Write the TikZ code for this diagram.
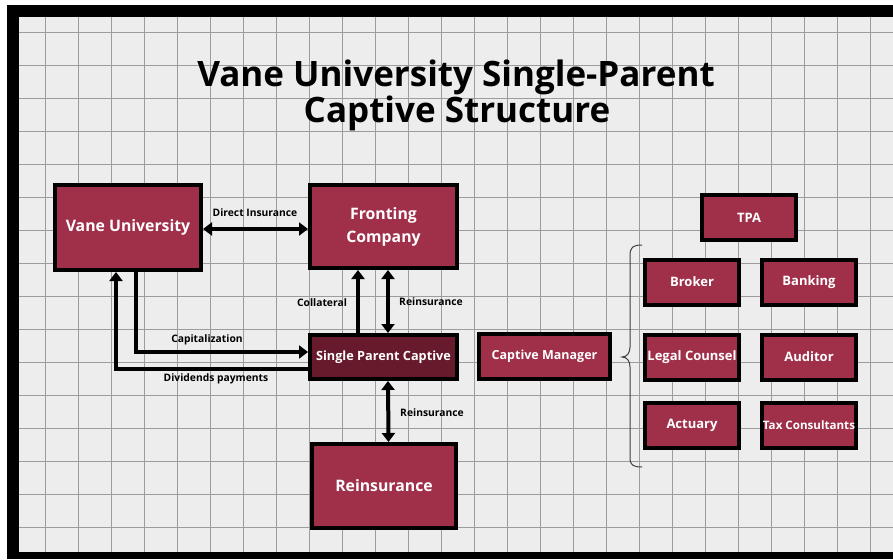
\documentclass[tikz,border=0pt]{standalone}
\usepackage{fontspec}
\setmainfont{Open Sans}
\usetikzlibrary{arrows.meta}
\definecolor{bg}{HTML}{EDEDED}
\definecolor{gridc}{HTML}{9C9C9C}
\definecolor{maroon}{HTML}{A0304A}
\definecolor{darkmaroon}{HTML}{661A2C}
\tikzset{
  box/.style={draw=black, line width=4pt, fill=maroon, text=white, font=\bfseries\fontsize{15.8}{23}\selectfont, align=center, inner sep=1pt},
  smallbox/.style={box, minimum width=94pt, minimum height=45pt, font=\bfseries\fontsize{13}{15}\selectfont},
  conn/.style={line width=4pt, draw=black},
  arr/.style={conn, -{Triangle[length=9pt,width=13pt]}},
  dbl/.style={conn, {Triangle[length=9pt,width=13pt]}-{Triangle[length=9pt,width=13pt]}},
  lbl/.style={font=\bfseries\fontsize{10.3}{12}\selectfont, text=black, inner sep=1pt},
  ttl/.style={font=\bfseries\fontsize{35}{40}\selectfont, inner sep=0pt, anchor=base}
}
\begin{document}
\begin{tikzpicture}[x=1pt,y=-1pt]
\useasboundingbox (0,0) rectangle (893,559);
\fill[white] (0,0) rectangle (893,559);
\fill[bg] (7,5) rectangle (893,559);
% grid
\foreach \i in {0,...,26} { \draw[gridc, line width=0.8pt] ({45+33*\i},17) -- ({45+33*\i},552); }
\foreach \j in {0,...,15} { \draw[gridc, line width=0.8pt] (19,{32+33*\j}) -- (893,{32+33*\j}); }
% frame
\fill[black] (7,5) rectangle (893,17);
\fill[black] (7,5) rectangle (19,559);
\fill[black] (7,552) rectangle (893,559);
% title
\node[ttl] (title1) at (456,87) {Vane University Single-Parent};
\node[ttl] (title2) at (457,122) {Captive Structure};
% main boxes
\node[box, minimum width=146pt, minimum height=85pt] (vane) at (128,227.5) {Vane University};
\node[box, minimum width=147pt, minimum height=83pt] (front) at (383.5,226.5) {Fronting\\Company};
\node[box, fill=darkmaroon, minimum width=147pt, minimum height=44pt, font=\bfseries\fontsize{12.7}{15}\selectfont] (captive) at (383.5,357) {Single Parent Captive};
\node[box, minimum width=144pt, minimum height=84pt] (reins) at (384,486) {Reinsurance};
\node[box, minimum width=131pt, minimum height=45pt, font=\bfseries\fontsize{12.5}{15}\selectfont] (cm) at (544.5,356.5) {Captive Manager};
% right boxes
\node[smallbox] (tpa) at (749,217.5) {TPA};
\node[smallbox] (broker) at (692,282) {Broker};
\node[smallbox] (banking) at (809,282) {Banking};
\node[smallbox] (legal) at (692,357) {Legal Counsel};
\node[smallbox] (auditor) at (809,357) {Auditor};
\node[smallbox] (actuary) at (692,425) {Actuary};
\node[smallbox, font=\bfseries\fontsize{11.6}{13}\selectfont] (tax) at (809,425) {Tax Consultants};
% brace
\draw[black!75, line width=1pt] (642,245) .. controls (633,245) and (630,247) .. (630,256) -- (630,347) .. controls (630,353) and (627,357) .. (622,357) .. controls (627,357) and (630,361) .. (630,367) -- (630,458) .. controls (630,465) and (633,467) .. (642,467);
% connectors
\draw[dbl] (vane.east |- 0,229) -- (front.west |- 0,229);
\draw[arr] ([xshift=-25.5pt]captive.north) -- ([xshift=-25.5pt]front.south);
\draw[dbl] ([xshift=4.5pt]captive.north) -- ([xshift=4.5pt]front.south);
\draw[dbl] ([xshift=4.5pt]captive.south) -- ([xshift=4.5pt]reins.north);
\draw[arr] ([xshift=8pt]vane.south) |- ([yshift=5pt]captive.west);
\draw[arr] ([yshift=-12pt]captive.west) -| ([xshift=-12pt]vane.south);
% labels
\node[lbl] (l1) at (255,213) {Direct Insurance};
\node[lbl] (l2) at (322,303) {Collateral};
\node[lbl] (l3) at (431,302) {Reinsurance};
\node[lbl] (l4) at (207,340) {Capitalization};
\node[lbl] (l5) at (216,379) {Dividends payments};
\node[lbl] (l6) at (432,413) {Reinsurance};
\end{tikzpicture}
\end{document}
